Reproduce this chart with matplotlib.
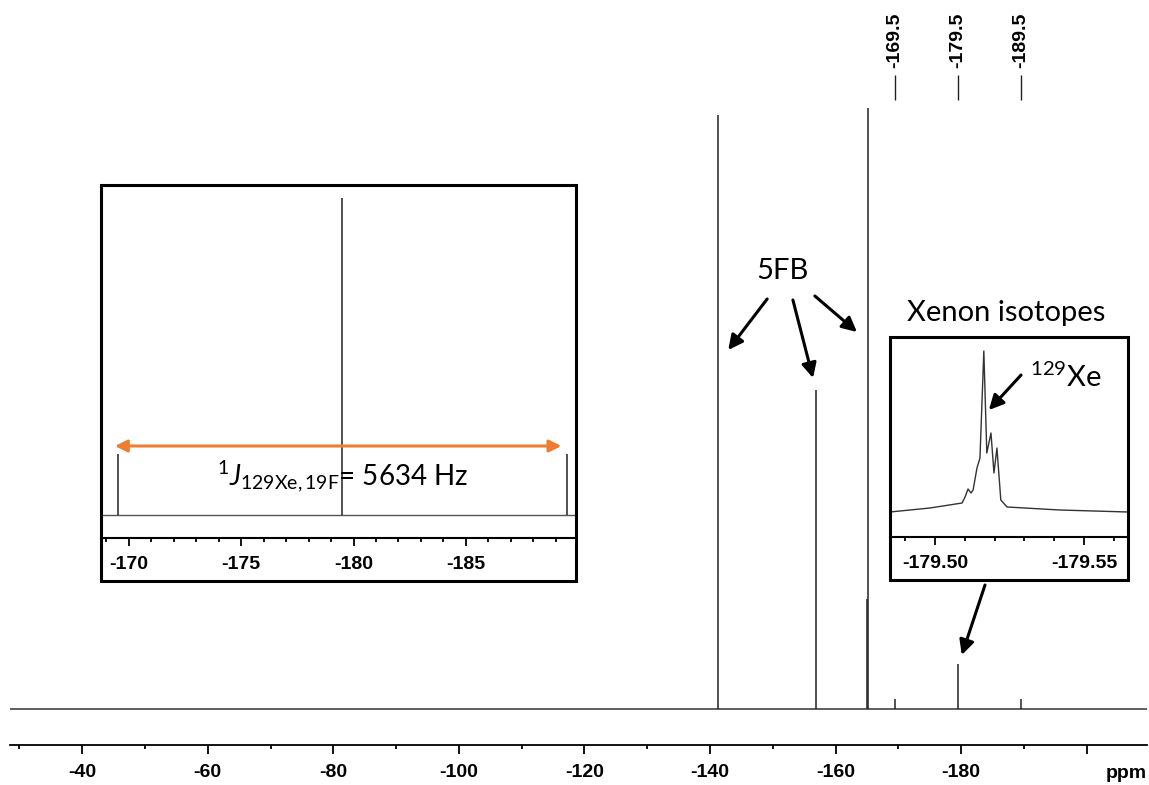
import numpy as np
import matplotlib
matplotlib.use('Agg')
import matplotlib.pyplot as plt
from matplotlib.patches import Rectangle
from matplotlib.ticker import MultipleLocator

W, H = 1149, 785

# main 19F spectrum: peak positions (ppm) and heights (arb.)
peak_ppm = [-141.3, -156.9, -165.2, -165.0, -169.5, -179.5, -189.5]
peak_int = [594, 319, 601, 110, 10, 45, 10]
marker_ppm = [-169.5, -179.5, -189.5]
marker_lbl = ['-169.5', '-179.5', '-189.5']

# left inset: XeF satellites
ins1_ppm = [-169.5, -179.5, -189.5]
ins1_int = [61, 317, 61]
ins1_ticks = [-170, -175, -180, -185]

# right inset: xenon isotope pattern
ins2_ppm = [-179.4849, -179.4983, -179.5091, -179.5101, -179.5111, -179.5121, -179.5128,
            -179.5141, -179.5151, -179.5164, -179.5174, -179.5188, -179.5198, -179.5208,
            -179.5221, -179.5242, -179.5419, -179.5648]
ins2_int = [0, 4, 9, 15, 23, 19, 22, 44, 54, 161, 59, 79, 39, 64, 12, 5, 2, 0]
ins2_ticks = [-179.50, -179.55]

plt.rcParams['mathtext.fontset'] = 'custom'
plt.rcParams['mathtext.rm'] = 'Lato'
plt.rcParams['mathtext.it'] = 'Lato:italic'

ANN = 'Lato'
TICK = dict(family='Liberation Sans', weight='bold', size=14)


def box(x0, y0, x1, y1):
    # pixel box (top-left origin) -> figure fraction rect
    return [x0 / W, 1 - y1 / H, (x1 - x0) / W, (y1 - y0) / H]


fig = plt.figure(figsize=(W / 100, H / 100), dpi=100)

# ---- main spectrum ----
ax = fig.add_axes(box(10, 0, 1147, 745))
ax.axhline(0, color='#333333', lw=1.1)
ax.vlines(peak_ppm, 0, peak_int, color='#222222', lw=1.1)
ax.set_xlim(-28.5, -209.6)
ax.set_ylim(-36, 709)
for s in ['top', 'left', 'right']:
    ax.spines[s].set_visible(False)
ax.spines['bottom'].set_linewidth(1.3)
ax.set_xticks(np.arange(-40, -201, -20))
ax.set_xticklabels([str(v) for v in range(-40, -181, -20)] + [''], **TICK)
ax.xaxis.set_minor_locator(MultipleLocator(10))
ax.tick_params(axis='x', which='major', direction='out', length=6.5, width=1.3, pad=7)
ax.tick_params(axis='x', which='minor', direction='out', length=3, width=1.3)
ax.set_yticks([])
ax.set_xlabel('ppm', **TICK)
ax.xaxis.set_label_coords(1.0, -0.027)
ax.xaxis.label.set_ha('right')
ax.xaxis.label.set_va('top')

# peak markers at top
ax.vlines(marker_ppm, 709 - 100, 709 - 75, color='#222222', lw=1.0)
for p, l in zip(marker_ppm, marker_lbl):
    ax.text(p, 709 - 68, l, rotation=90, ha='center', va='bottom', **TICK)

# annotations
arrow = dict(arrowstyle='-|>', lw=2.2, color='black', mutation_scale=22, shrinkA=0, shrinkB=0)
ax.text(-151.5, 438, '5FB', family=ANN, size=21, ha='center', va='center')
ax.annotate('', xy=(-142.9, 359), xytext=(-149.1, 410), arrowprops=arrow)
ax.annotate('', xy=(-156.4, 331), xytext=(-153.2, 409), arrowprops=arrow)
ax.annotate('', xy=(-163.4, 377), xytext=(-156.7, 413), arrowprops=arrow)
ax.text(-187.1, 396, 'Xenon isotopes', family=ANN, size=21, ha='center', va='center')
ax.annotate('', xy=(-180.1, 54), xytext=(-183.8, 124), arrowprops=arrow)

# ---- left inset ----
a1 = fig.add_axes(box(101, 185, 576, 538))
a1.axhline(0, color='#555555', lw=1.0)
a1.vlines(ins1_ppm, 0, ins1_int, color='#222222', lw=1.1)
a1.set_xlim(-168.76, -189.9)
a1.set_ylim(-23, 330)
for s in ['top', 'left', 'right']:
    a1.spines[s].set_visible(False)
a1.spines['bottom'].set_linewidth(1.5)
a1.set_xticks(ins1_ticks)
a1.set_xticklabels([str(v) for v in ins1_ticks], **TICK)
a1.xaxis.set_minor_locator(MultipleLocator(1))
a1.tick_params(axis='x', which='major', direction='out', length=6, width=1.3, pad=7)
a1.tick_params(axis='x', which='minor', direction='out', length=3, width=1.3)
a1.set_yticks([])
a1.annotate('', xy=(-189.25, 69), xytext=(-169.38, 69),
            arrowprops=dict(arrowstyle='<|-|>', lw=2.2, color='#ED7D31',
                            mutation_scale=18, shrinkA=0, shrinkB=0))
a1.text(-179.5, 38, r'$^{1}\mathit{J}_{\mathrm{129Xe,19F}}$= 5634 Hz',
        family=ANN, size=20, ha='center', va='center')
fig.patches.append(Rectangle((101 / W, 1 - 581 / H), 475 / W, 396 / H, transform=fig.transFigure,
                             fill=False, lw=2.2, ec='black', zorder=10))

# ---- right inset ----
a2 = fig.add_axes(box(890, 337, 1128, 537))
a2.plot(ins2_ppm, ins2_int, color='#333333', lw=1.0)
a2.set_xlim(-179.4849, -179.5648)
a2.set_ylim(-25, 175)
for s in ['top', 'left', 'right']:
    a2.spines[s].set_visible(False)
a2.spines['bottom'].set_linewidth(1.5)
a2.set_xticks(ins2_ticks)
a2.set_xticklabels(['%.2f' % v for v in ins2_ticks], **TICK)
a2.xaxis.set_minor_locator(MultipleLocator(0.01))
a2.tick_params(axis='x', which='major', direction='out', length=6, width=1.3, pad=7)
a2.tick_params(axis='x', which='minor', direction='out', length=3, width=1.3)
a2.set_yticks([])
a2.text(-179.5319, 135, r'$^{129}$Xe', family=ANN, size=21, ha='left', va='center')
a2.annotate('', xy=(-179.5181, 102), xytext=(-179.5289, 137), arrowprops=arrow)
fig.patches.append(Rectangle((890 / W, 1 - 580 / H), 238 / W, 243 / H, transform=fig.transFigure,
                             fill=False, lw=2.2, ec='black', zorder=10))

fig.savefig('out.png', dpi=100)
